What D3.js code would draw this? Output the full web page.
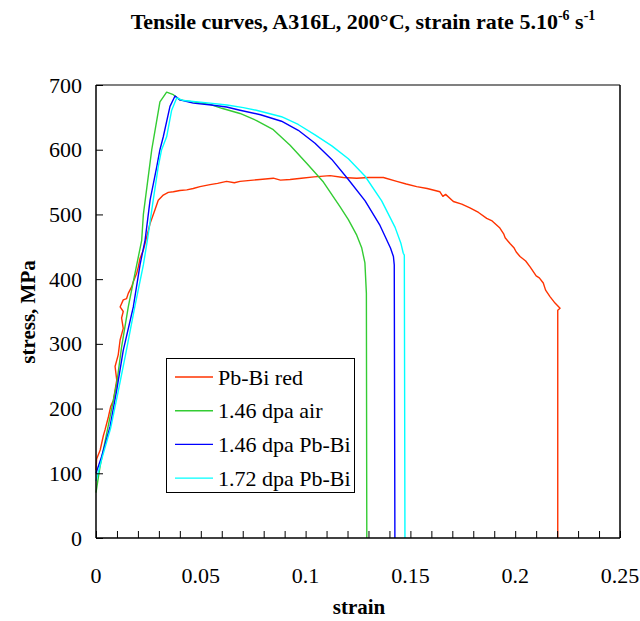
<!DOCTYPE html>
<meta charset="utf-8">
<title>Tensile curves, A316L</title>
<style>
body { margin: 0; background: #fff; }
</style>
<body>
<script src="https://cdn.jsdelivr.net/npm/d3@7"></script>
<script>
'use strict';

// [strain, stress MPa]
var pbBiRed = [
  [0,105],[0.0003,122],[0.002,136],[0.0035,158],[0.0043,167],[0.0059,187],[0.007,203],
  [0.0083,213],[0.0099,244],[0.0091,265],[0.0106,283],[0.0115,306],[0.013,324],[0.0122,340],
  [0.013,350],[0.0115,357],[0.013,368],[0.0146,370],[0.0154,378],[0.017,388],[0.0178,396],
  [0.0194,409],[0.0202,419],[0.021,432],[0.0226,445],[0.0234,455],[0.0258,486],[0.0281,507],
  [0.0297,522],[0.0321,530],[0.0345,534],[0.0369,535],[0.04,537],[0.0433,538],[0.0464,540],
  [0.0496,543],[0.0544,546],[0.058,548],[0.0623,551],[0.066,549],[0.0687,551],[0.075,553],
  [0.0782,554],[0.0846,556],[0.088,553],[0.0926,554],[0.098,556],[0.104,558],[0.1117,560],
  [0.118,557],[0.1244,556],[0.13,557],[0.1371,557],[0.1435,551],[0.148,547],[0.153,543],
  [0.158,540],[0.1641,535],[0.1655,528],[0.1668,531],[0.1705,520],[0.1745,516],[0.1784,510],
  [0.1825,503],[0.1864,494],[0.189,490],[0.1927,479],[0.1945,470],[0.1952,464],[0.1975,455],
  [0.1995,448],[0.2005,442],[0.2023,435],[0.205,428],[0.2071,419],[0.21,405],[0.2115,402],
  [0.2134,394],[0.2145,383],[0.2166,373],[0.219,363],[0.2214,355],[0.2203,352],[0.2203,0]
];
var air146 = [
  [0,70],[0.0019,110],[0.0035,136],[0.0067,187],[0.0099,239],[0.0122,295],[0.0154,357],
  [0.0186,409],[0.0218,460],[0.0226,500],[0.0266,600],[0.0305,674],[0.0337,689],[0.0369,685],
  [0.04,677],[0.0544,670],[0.06,664],[0.0687,656],[0.0766,645],[0.0846,631],[0.0926,607],
  [0.1005,579],[0.1085,550],[0.1164,512],[0.1204,492],[0.1244,468],[0.1268,448],[0.1283,425],
  [0.129,378],[0.1292,0]
];
var pbBi146 = [
  [0,100],[0.0027,126],[0.0067,172],[0.0099,229],[0.013,290],[0.0178,357],[0.021,422],
  [0.0234,460],[0.0258,522],[0.029,574],[0.0305,600],[0.0321,620],[0.0353,667],[0.0377,683],
  [0.04,677],[0.0464,672],[0.055,669],[0.0623,666],[0.0687,661],[0.0785,654],[0.0885,644],
  [0.0965,630],[0.1045,610],[0.1125,585],[0.1204,554],[0.1284,521],[0.1355,483],[0.1405,448],
  [0.1419,435],[0.1423,422],[0.1426,0]
];
var pbBi172 = [
  [0,88],[0.003,125],[0.007,170],[0.0105,225],[0.0142,285],[0.0185,357],[0.0226,422],
  [0.0245,460],[0.0273,522],[0.0297,574],[0.0313,600],[0.0337,620],[0.0361,661],[0.0385,680],
  [0.0417,676],[0.0544,672],[0.0625,669],[0.0703,665],[0.0765,661],[0.0885,651],[0.0965,639],
  [0.1045,623],[0.1125,606],[0.1204,586],[0.1284,559],[0.1363,521],[0.1427,480],[0.1455,455],
  [0.1466,440],[0.1471,437],[0.1474,0]
];

var seriesNames = ["Pb-Bi red", "1.46 dpa air", "1.46 dpa Pb-Bi", "1.72 dpa Pb-Bi"];
var seriesColors = ["#ff3300", "#33cc33", "#0000ff", "#00ffff"];
var seriesData = [pbBiRed, air146, pbBi146, pbBi172];

var xTicks = [0, 0.05, 0.1, 0.15, 0.2, 0.25];
var yTicks = [0, 100, 200, 300, 400, 500, 600, 700];

const W = 640, H = 621;
const margin = {top: 85, right: 20, bottom: 83, left: 96};
const serif = "Liberation Serif";

const svg = d3.select("body").append("svg")
    .attr("width", W)
    .attr("height", H);

const x = d3.scaleLinear().domain([0, 0.25]).range([margin.left, W - margin.right]);
const y = d3.scaleLinear().domain([0, 700]).range([H - margin.bottom, margin.top]);

// title
const title = svg.append("text")
    .attr("x", 363)
    .attr("y", 29)
    .attr("text-anchor", "middle")
    .style("font-family", serif)
    .style("font-size", "22px")
    .style("font-weight", "bold");
title.append("tspan").text("Tensile curves, A316L, 200\u00b0C, strain rate 5.10");
title.append("tspan").attr("dy", -9).style("font-size", "14px").text("-6");
title.append("tspan").attr("dy", 9).text(" s");
title.append("tspan").attr("dy", -9).style("font-size", "14px").text("-1");

// frame: top gray, right black
svg.append("line")
    .attr("x1", x(0)).attr("x2", x(0.25))
    .attr("y1", y(700)).attr("y2", y(700))
    .attr("stroke", "#808080").attr("stroke-width", 2);
svg.append("line")
    .attr("x1", x(0.25)).attr("x2", x(0.25))
    .attr("y1", y(700)).attr("y2", y(0))
    .attr("stroke", "#000").attr("stroke-width", 1.5);

// curves
const line = d3.line().x((d) => x(d[0])).y((d) => y(d[1]));
seriesData.forEach(function(s, i) {
  svg.append("path")
      .datum(s)
      .attr("fill", "none")
      .attr("stroke", seriesColors[i])
      .attr("stroke-width", 1.4)
      .attr("stroke-linejoin", "round")
      .attr("d", line);
});

// axes with inward ticks
const xAxis = svg.append("g")
    .attr("transform", "translate(0," + y(0) + ")")
    .call(d3.axisTop(x).tickValues(d3.range(0, 0.2501, 0.01)).tickSize(7).tickFormat(""));
xAxis.select(".domain").attr("stroke-width", 1.5).attr("d", "M" + x(0) + ",0H" + x(0.25));

const yAxis = svg.append("g")
    .attr("transform", "translate(" + x(0) + ",0)")
    .call(d3.axisRight(y).tickValues(yTicks).tickSize(7).tickFormat(""));
yAxis.select(".domain").attr("stroke-width", 1.5).attr("d", "M0," + y(0) + "V" + y(700));

// tick labels
svg.selectAll(".xl").data(xTicks).enter().append("text")
    .attr("class", "xl")
    .attr("x", (d) => x(d))
    .attr("y", 583)
    .attr("text-anchor", "middle")
    .style("font-family", serif)
    .style("font-size", "22px")
    .text((d) => d);
svg.selectAll(".yl").data(yTicks).enter().append("text")
    .attr("class", "yl")
    .attr("x", 82)
    .attr("y", (d) => y(d) + 7.5)
    .attr("text-anchor", "end")
    .style("font-family", serif)
    .style("font-size", "22px")
    .text((d) => d);

// axis titles
svg.append("text")
    .attr("x", 359).attr("y", 614)
    .attr("text-anchor", "middle")
    .style("font-family", serif)
    .style("font-size", "21px").style("font-weight", "bold")
    .text("strain");
svg.append("text")
    .attr("transform", "translate(35,312) rotate(-90)")
    .attr("text-anchor", "middle")
    .style("font-family", serif)
    .style("font-size", "21px").style("font-weight", "bold")
    .text("stress, MPa");

// legend
const lg = svg.append("g");
lg.append("rect")
    .attr("x", 166.5).attr("y", 358.5)
    .attr("width", 188).attr("height", 134)
    .attr("fill", "#fff").attr("stroke", "#000");
seriesNames.forEach(function(n, i) {
  const cy = 377 + i * 33.7;
  lg.append("line")
      .attr("x1", 175).attr("x2", 213)
      .attr("y1", cy).attr("y2", cy)
      .attr("stroke", seriesColors[i]).attr("stroke-width", 1.4);
  lg.append("text")
      .attr("x", 218).attr("y", cy + 7.5)
      .style("font-family", serif)
      .style("font-size", "22px")
      .text(n);
});
</script>
</body>
